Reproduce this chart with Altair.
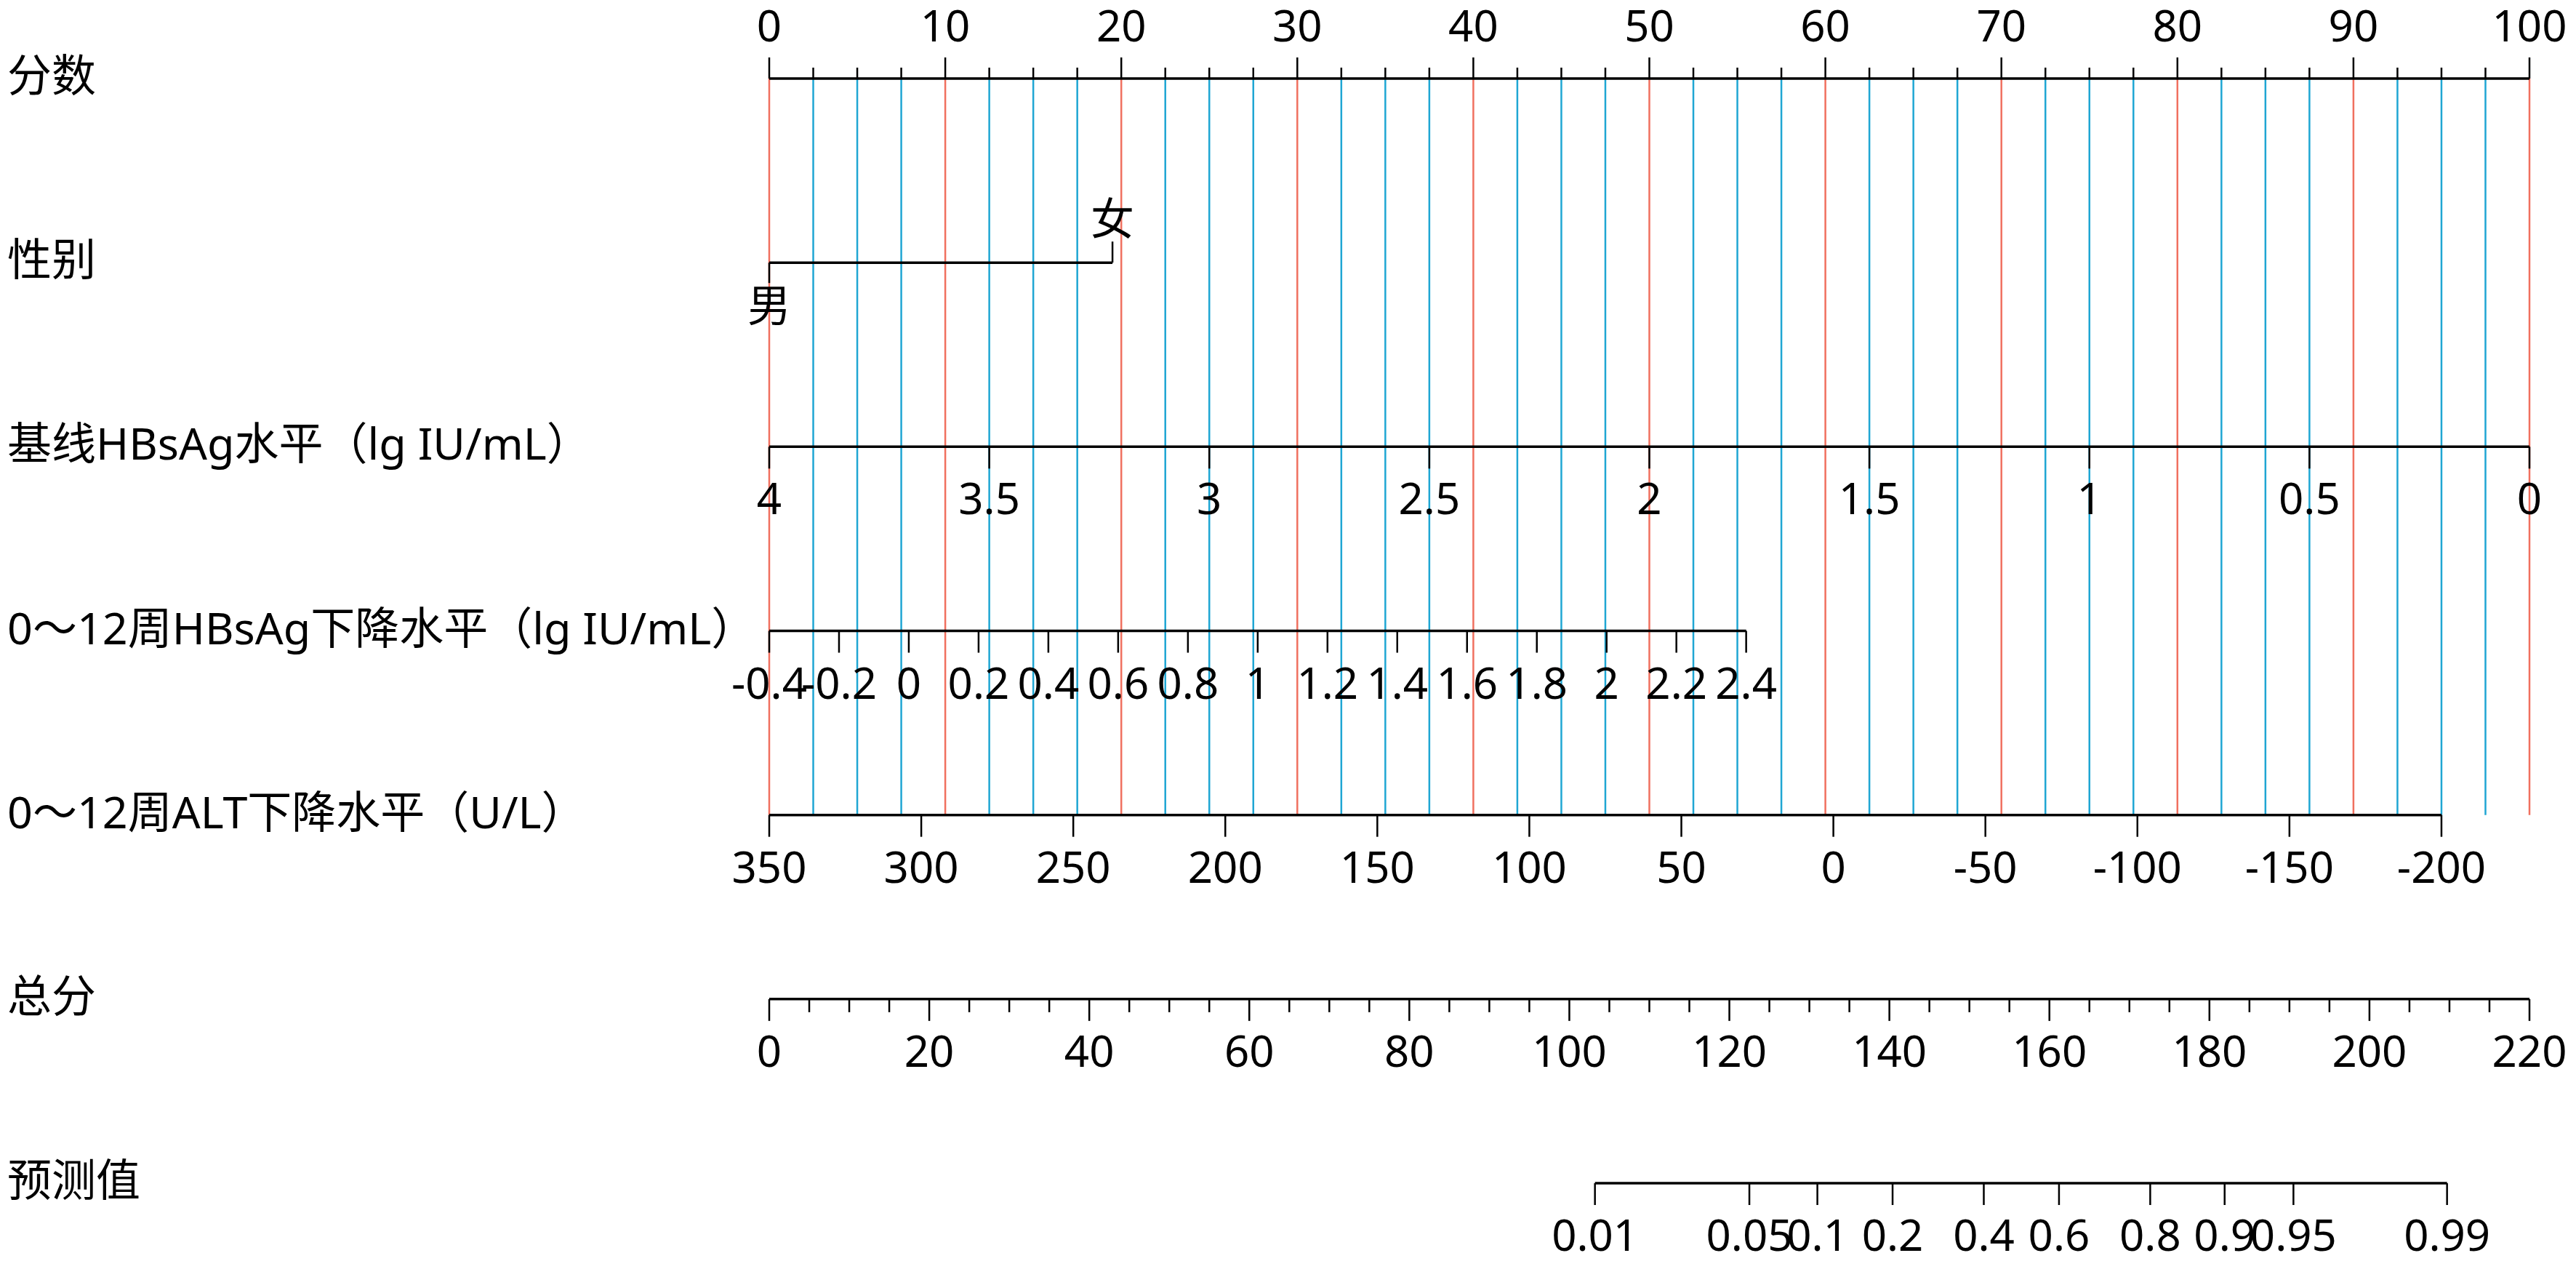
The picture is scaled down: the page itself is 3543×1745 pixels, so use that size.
import altair as alt
import pandas as pd

# ---------------- values ----------------
row_titles = ["分数", "性别", "基线HBsAg水平（lg IU/mL）", "0～12周HBsAg下降水平（lg IU/mL）",
              "0～12周ALT下降水平（U/L）", "总分", "预测值"]

points_labels = [0, 10, 20, 30, 40, 50, 60, 70, 80, 90, 100]
points_minor = [2.5, 5, 7.5]          # minor ticks inside each 10-point step

sex_levels = ["男", "女"]
sex_points = [0, 19.5]

base_values = [4, 3.5, 3, 2.5, 2, 1.5, 1, 0.5, 0]
base_labels = ["4", "3.5", "3", "2.5", "2", "1.5", "1", "0.5", "0"]
base_end_values = [4, 0]
base_end_points = [0, 100]

decl_values = [-0.4, -0.2, 0, 0.2, 0.4, 0.6, 0.8, 1, 1.2, 1.4, 1.6, 1.8, 2, 2.2, 2.4]
decl_labels = ["-0.4", "-0.2", "0", "0.2", "0.4", "0.6", "0.8", "1", "1.2", "1.4", "1.6", "1.8", "2", "2.2", "2.4"]
decl_end_values = [-0.4, 2.4]
decl_end_points = [0, 55.5]

altv_values = [350, 300, 250, 200, 150, 100, 50, 0, -50, -100, -150, -200]
altv_labels = ["350", "300", "250", "200", "150", "100", "50", "0", "-50", "-100", "-150", "-200"]
altv_end_values = [350, -200]
altv_end_points = [0, 95]

total_labels = [0, 20, 40, 60, 80, 100, 120, 140, 160, 180, 200, 220]
total_minor = [5, 10, 15]             # minor ticks inside each 20-point step
total_max = 220

prob_labels = ["0.01", "0.05", "0.1", "0.2", "0.4", "0.6", "0.8", "0.9", "0.95", "0.99"]
prob_total_points = [103.2, 122.5, 131.0, 140.4, 151.8, 161.2, 172.6, 181.9, 190.5, 209.7]

# ---------------- helpers ----------------
def lin(v, vals, pts):
    return pts[0] + (v - vals[0]) * (pts[1] - pts[0]) / (vals[1] - vals[0])

def tot(t):
    return t * 100.0 / total_max

RED = "#F0705F"
BLUE = "#1FA6D3"
FONT = "Noto Sans, Noto Sans CJK SC"
FS = 60
FS_TITLE = 61

# grid lines (every 2.5 points), from row 0 to row 4
grid_pts = [p + m for p in points_labels[:-1] for m in [0] + points_minor] + [100]
grid_df = pd.DataFrame({
    "x": grid_pts,
    "r0": 0, "r1": 4,
    "kind": ["major" if p % 10 == 0 else "minor" for p in grid_pts],
})

# axis lines
lines_df = pd.DataFrame({
    "x0": [0, sex_points[0], lin(base_end_values[0], base_end_values, base_end_points),
           lin(decl_end_values[0], decl_end_values, decl_end_points),
           lin(altv_end_values[0], altv_end_values, altv_end_points), tot(0), tot(prob_total_points[0])],
    "x1": [100, sex_points[1], lin(base_end_values[1], base_end_values, base_end_points),
           lin(decl_end_values[1], decl_end_values, decl_end_points),
           lin(altv_end_values[1], altv_end_values, altv_end_points), tot(total_max), tot(prob_total_points[-1])],
    "row": [0, 1, 2, 3, 4, 5, 6],
})

# ticks going down (major) and labels below
down_rows = []
for v, l in zip(base_values, base_labels):
    down_rows.append({"x": lin(v, base_end_values, base_end_points), "row": 2, "label": l})
for v, l in zip(decl_values, decl_labels):
    down_rows.append({"x": lin(v, decl_end_values, decl_end_points), "row": 3, "label": l})
for v, l in zip(altv_values, altv_labels):
    down_rows.append({"x": lin(v, altv_end_values, altv_end_points), "row": 4, "label": l})
for t in total_labels:
    down_rows.append({"x": tot(t), "row": 5, "label": str(t)})
for t, l in zip(prob_total_points, prob_labels):
    down_rows.append({"x": tot(t), "row": 6, "label": l})
down_df = pd.DataFrame(down_rows)

total_minor_df = pd.DataFrame({
    "x": [tot(t + m) for t in total_labels[:-1] for m in total_minor],
    "row": 5,
})

points_major_df = pd.DataFrame({"x": points_labels, "row": 0, "label": [str(p) for p in points_labels]})
points_minor_df = pd.DataFrame({"x": [p + m for p in points_labels[:-1] for m in points_minor], "row": 0})

sex_df = pd.DataFrame({"x": sex_points, "row": 1, "label": sex_levels})

titles_df = pd.DataFrame({"row": list(range(7)), "title": row_titles})

# ---------------- scales ----------------
PAD_TOP = 12
PX_PER_PT = 24.21
W, H = 3527, 1729 - PAD_TOP
X0 = -1050 / PX_PER_PT
X1 = X0 + W / PX_PER_PT
ROW_PX = 253.17
Y0 = -(100 - PAD_TOP) / ROW_PX
Y1 = Y0 + H / ROW_PX

xs = alt.Scale(domain=[X0, X1], nice=False, zero=False)
ys = alt.Scale(domain=[Y0, Y1], nice=False, zero=False, reverse=True)
X = lambda f: alt.X(f, type="quantitative", scale=xs, axis=None)
Y = lambda f: alt.Y(f, type="quantitative", scale=ys, axis=None)

grid = alt.Chart(grid_df).mark_rule(strokeWidth=2.5).encode(
    x=X("x"), y=Y("r0"), y2="r1",
    color=alt.Color("kind:N", scale=alt.Scale(domain=["major", "minor"], range=[RED, BLUE]), legend=None),
)

axis_lines = alt.Chart(lines_df).mark_rule(strokeWidth=3.5, color="black").encode(
    x=X("x0"), x2="x1", y=Y("row"))

down_ticks = alt.Chart(down_df).mark_rule(strokeWidth=2.5, color="black", y2Offset=30).encode(
    x=X("x"), y=Y("row"), y2="row")
down_text = alt.Chart(down_df).mark_text(font=FONT, fontSize=FS, baseline="middle", align="center", dy=75).encode(
    x=X("x"), y=Y("row"), text="label")

tmin = alt.Chart(total_minor_df).mark_rule(strokeWidth=2.5, color="black", y2Offset=18).encode(
    x=X("x"), y=Y("row"), y2="row")

pmaj = alt.Chart(points_major_df).mark_rule(strokeWidth=2.5, color="black", y2Offset=-29).encode(
    x=X("x"), y=Y("row"), y2="row")
pmin = alt.Chart(points_minor_df).mark_rule(strokeWidth=2.5, color="black", y2Offset=-15).encode(
    x=X("x"), y=Y("row"), y2="row")
ptext = alt.Chart(points_major_df).mark_text(font=FONT, fontSize=FS, baseline="middle", align="center", dy=-69).encode(
    x=X("x"), y=Y("row"), text="label")

sex_m = sex_df[sex_df.label == sex_levels[0]]
sex_f = sex_df[sex_df.label == sex_levels[1]]
sm_tick = alt.Chart(sex_m).mark_rule(strokeWidth=2.5, color="black", y2Offset=28).encode(
    x=X("x"), y=Y("row"), y2="row")
sf_tick = alt.Chart(sex_f).mark_rule(strokeWidth=2.5, color="black", y2Offset=-29).encode(
    x=X("x"), y=Y("row"), y2="row")
sm_text = alt.Chart(sex_m).mark_text(font=FONT, fontSize=FS, baseline="middle", align="center", dy=63).encode(
    x=X("x"), y=Y("row"), text="label")
sf_text = alt.Chart(sex_f).mark_text(font=FONT, fontSize=FS, baseline="middle", align="center", dy=-56).encode(
    x=X("x"), y=Y("row"), text="label")

titles = alt.Chart(titles_df).mark_text(font=FONT, fontSize=FS_TITLE, baseline="middle", align="left").encode(
    x=alt.value(2), y=Y("row"), text="title")

chart = alt.layer(
    grid, axis_lines, down_ticks, tmin, pmaj, pmin, sm_tick, sf_tick,
    down_text, ptext, sm_text, sf_text, titles,
).properties(
    width=W, height=H, autosize=alt.AutoSizeParams(type="none"),
    padding={"top": PAD_TOP, "left": 0, "right": 0, "bottom": 0}, background="white"
).configure_view(stroke=None)

chart.save("out.html", embed_options={"renderer": "svg", "actions": False})
